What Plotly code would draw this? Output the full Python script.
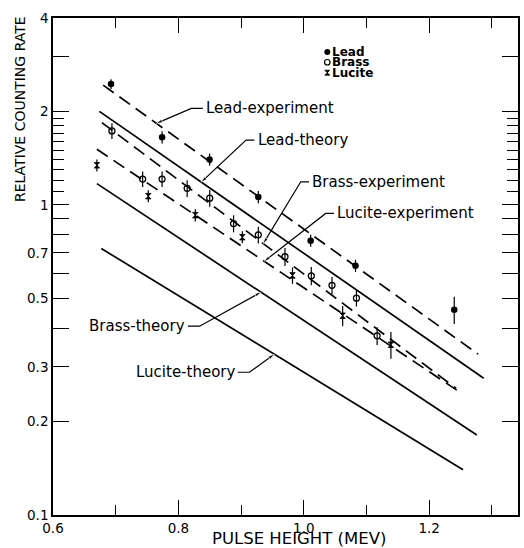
import math
import plotly.graph_objects as go

# ---- measured relative counting rates vs pulse height (MeV) ----
lead_e = [0.6925, 0.774, 0.8497, 0.9275, 1.011, 1.0825, 1.240]
lead_rate = [2.45, 1.65, 1.40, 1.06, 0.766, 0.636, 0.459]
lead_err = [0.09, 0.075, 0.063, 0.048, 0.034, 0.029, 0.046]

brass_e = [0.694, 0.743, 0.774, 0.814, 0.850, 0.888, 0.9275, 0.970, 1.012, 1.045, 1.084, 1.117]
brass_rate = [1.73, 1.21, 1.21, 1.13, 1.05, 0.87, 0.80, 0.68, 0.59, 0.55, 0.50, 0.378]
brass_err = [0.10, 0.07, 0.07, 0.07, 0.065, 0.055, 0.05, 0.045, 0.04, 0.035, 0.03, 0.025]

lucite_e = [0.670, 0.752, 0.827, 0.902, 0.982, 1.062, 1.139]
lucite_rate = [1.34, 1.066, 0.926, 0.786, 0.592, 0.439, 0.354]
lucite_err = [0.06, 0.048, 0.042, 0.035, 0.036, 0.033, 0.035]

# ---- straight-line (semi-log) experiment fits and theory curves, by end points ----
lead_exp_e, lead_exp_rate = [0.680, 1.278], [2.43, 0.330]
lead_th_e, lead_th_rate = [0.674, 1.287], [2.00, 0.276]
brass_exp_e, brass_exp_rate = [0.678, 1.243], [1.84, 0.256]
lucite_exp_e, lucite_exp_rate = [0.670, 1.250], [1.51, 0.248]
brass_th_e, brass_th_rate = [0.670, 1.276], [1.17, 0.181]
lucite_th_e, lucite_th_rate = [0.677, 1.254], [0.723, 0.140]

# ---- axis ticks ----
x_major = [0.6, 0.8, 1.0, 1.2]
x_major_text = ["0.6", "0.8", "1.0", "1.2"]
x_minor = [0.7, 0.9, 1.1, 1.3]
y_major = [4, 3, 2, 1, 0.9, 0.8, 0.7, 0.6, 0.5, 0.4, 0.3, 0.2, 0.1]
y_major_text = ["4", "", "2", "1", "", "", "0.7", "", "0.5", "", "0.3", "0.2", "0.1"]
y_minor = [1.1, 1.2, 1.3, 1.4, 1.5, 1.6, 1.7, 1.8, 1.9]

FONT = "DejaVu Sans, Liberation Sans, sans-serif"
INK = "black"

fig = go.Figure()

# fitted / theory lines
line_sets = [
    (lead_exp_e, lead_exp_rate, "13px,7px"),
    (lead_th_e, lead_th_rate, "solid"),
    (brass_exp_e, brass_exp_rate, "13px,7px"),
    (lucite_exp_e, lucite_exp_rate, "13px,7px"),
    (brass_th_e, brass_th_rate, "solid"),
    (lucite_th_e, lucite_th_rate, "solid"),
]
for xs, ys, dash in line_sets:
    fig.add_trace(go.Scatter(x=xs, y=ys, mode="lines",
                             line=dict(color=INK, width=1.7, dash=dash),
                             hoverinfo="skip", showlegend=False))

# data points with error bars
point_sets = [
    (lead_e, lead_rate, lead_err, dict(symbol="circle", size=6.5, color=INK)),
    (brass_e, brass_rate, brass_err,
     dict(symbol="circle-open", size=6, color=INK, line=dict(width=1.3, color=INK))),
    (lucite_e, lucite_rate, lucite_err,
     dict(symbol="hourglass", size=5.5, color=INK, line=dict(width=0.8, color=INK))),
]
for xs, ys, err, mk in point_sets:
    fig.add_trace(go.Scatter(
        x=xs, y=ys, mode="markers", marker=mk,
        error_y=dict(type="data", array=err, visible=True, color=INK,
                     thickness=1.2, width=0),
        showlegend=False))


def on_line(xs, ys, x):
    """Rate on a semi-log straight line at pulse height x."""
    t = (x - xs[0]) / (xs[1] - xs[0])
    ly = math.log10(ys[0]) + t * (math.log10(ys[1]) - math.log10(ys[0]))
    return 10 ** ly


# curve labels: text, text x, text y, anchor, leader stub x's, arrow tip x, target line
labels = [
    ("Lead-experiment", 0.841, 2.045, "left", (0.839, 0.8206), 0.765, (lead_exp_e, lead_exp_rate)),
    ("Lead-theory", 0.923, 1.616, "left", (0.9211, 0.9079), 0.8365, (lead_th_e, lead_th_rate)),
    ("Brass-experiment", 1.010, 1.186, "left", (1.0084, 0.9952), 0.9354, (brass_exp_e, brass_exp_rate)),
    ("Lucite-experiment", 1.050, 0.9375, "left", (1.0481, 1.0349), 0.937, (lucite_exp_e, lucite_exp_rate)),
    ("Brass-theory", 0.814, 0.406, "right", (0.8152, 0.8338), 0.9317, (brass_th_e, brass_th_rate)),
    ("Lucite-theory", 0.894, 0.2885, "right", (0.8946, 0.9132), 0.9529, (lucite_th_e, lucite_th_rate)),
]
for text, tx, ty, anchor, stub, tip_x, (lxs, lys) in labels:
    tip_y = on_line(lxs, lys, tip_x)
    fig.add_trace(go.Scatter(
        x=[stub[0], stub[1], tip_x], y=[ty, ty, tip_y], mode="lines+markers",
        line=dict(color=INK, width=1.2),
        marker=dict(symbol="arrow", angleref="previous", size=[0, 0, 6.5], color=INK),
        hoverinfo="skip", showlegend=False))
    fig.add_annotation(x=tx, y=math.log10(ty), xref="x", yref="y", text=text,
                       showarrow=False, xanchor=anchor, yanchor="middle",
                       font=dict(family=FONT, size=15, color=INK))

# key in the upper right
key_items = [("Lead", 3.11, dict(symbol="circle", size=6, color=INK)),
             ("Brass", 2.88, dict(symbol="circle-open", size=5.5, color=INK,
                                  line=dict(width=1.2, color=INK))),
             ("Lucite", 2.665, dict(symbol="hourglass", size=5, color=INK,
                                    line=dict(width=0.8, color=INK)))]
for name, ky, mk in key_items:
    fig.add_trace(go.Scatter(x=[1.0375], y=[ky], mode="markers", marker=mk,
                             hoverinfo="skip", showlegend=False))
    fig.add_annotation(x=1.0425, y=math.log10(ky), xref="x", yref="y", text=name,
                       showarrow=False, xanchor="left", yanchor="middle",
                       font=dict(family=FONT, size=12, color=INK, weight="bold"))

# axis titles
fig.add_annotation(x=-0.0707, y=0.817, xref="paper", yref="paper",
                   text="RELATIVE COUNTING RATE", textangle=-90, showarrow=False,
                   xanchor="center", yanchor="middle",
                   font=dict(family=FONT, size=14, color=INK))
fig.add_annotation(x=0.529, y=-0.047, xref="paper", yref="paper",
                   text="PULSE HEIGHT (MEV)", showarrow=False,
                   xanchor="center", yanchor="middle",
                   font=dict(family=FONT, size=16.5, color=INK))

axis_common = dict(showgrid=False, zeroline=False, showline=True, linecolor=INK,
                   linewidth=1.6, mirror="allticks", ticks="inside",
                   tickcolor=INK, tickwidth=1.4,
                   tickfont=dict(family=FONT, size=13.5, color=INK))

fig.update_xaxes(range=[0.6, 1.3417], tickmode="array", tickvals=x_major,
                 ticktext=x_major_text, ticklen=15,
                 minor=dict(tickmode="array", tickvals=x_minor, ticks="inside",
                            ticklen=10, tickcolor=INK, tickwidth=1.4),
                 **axis_common)
fig.update_yaxes(type="log", range=[-1, math.log10(4)], tickmode="array",
                 tickvals=y_major, ticktext=y_major_text, ticklen=16,
                 minor=dict(tickmode="array", tickvals=y_minor, ticks="inside",
                            ticklen=11, tickcolor=INK, tickwidth=1.4),
                 **axis_common)

fig.update_layout(width=524, height=548,
                  margin=dict(l=53, r=4, t=18, b=33),
                  paper_bgcolor="white", plot_bgcolor="white",
                  font=dict(family=FONT, color=INK), showlegend=False)

fig.write_html("out.html")
